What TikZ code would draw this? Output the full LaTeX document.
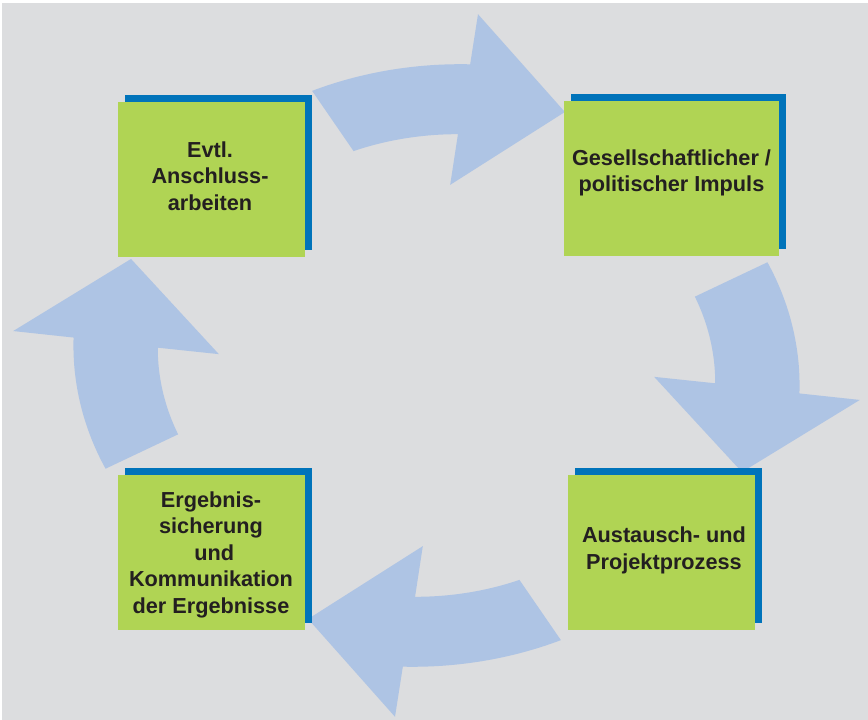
\documentclass[tikz,border=0pt]{standalone}
\usepackage{fontspec}
\setmainfont{Liberation Sans}
\usetikzlibrary{shadows}

\definecolor{bggrey}{RGB}{220,221,223}
\definecolor{arrowblue}{RGB}{174,196,228}
\definecolor{boxgreen}{RGB}{176,212,84}
\definecolor{boxblue}{RGB}{0,115,186}
\definecolor{textdark}{RGB}{35,31,32}

\tikzset{
  stepbox/.style={fill=boxgreen, inner sep=0pt, minimum width=187pt, minimum height=155pt,
    general shadow={fill=boxblue, shadow xshift=7pt, shadow yshift=7pt}},
  steplabel/.style={align=center, text=textdark, inner sep=0pt,
    font=\fontsize{21.7}{26.5}\selectfont\bfseries},
}

\begin{document}
\begin{tikzpicture}[x=1pt, y=1pt]
  \useasboundingbox (0,0) rectangle (868,720);
  \fill[white] (0,0) rectangle (868,720);
  \fill[bggrey] (2,0) rectangle (868,717);

  % four curved block arrows around the cycle (clockwise)
  \foreach \rot in {0,-90,180,90} {
    \begin{scope}[shift={(436.5,354.5)}, xscale=1.205, rotate=\rot]
      \fill[arrowblue]
        plot[domain=110.6:84.7, samples=30] (\x:{293.4+(110.6-\x)*0.3514})
        -- (84.4:353) -- (67.2:275) -- (86.4:181)
        -- plot[domain=85.6:107.8, samples=30] (\x:{232-(\x-85.6)*0.3063})
        -- cycle;
    \end{scope}
  }

  % the four steps
  \node[stepbox] (evtl) at (211.5,540.5) {};
  \node[stepbox, minimum width=215pt] (impuls) at (671.5,541) {};
  \node[stepbox] (prozess) at (661.5,167.5) {};
  \node[stepbox] (ergebnis) at (211.5,167.5) {};

  \node[steplabel] (evtl-t) at (210,544) {Evtl.\\Anschluss-\\arbeiten};
  \node[steplabel] (impuls-t) at (671.5,547.3) {Gesellschaftlicher /\\politischer Impuls};
  \node[steplabel] (prozess-t) at (664,169.8) {Austausch- und\\Projektprozess};
  \node[steplabel] (ergebnis-t) at (211,165.3) {Ergebnis-\\sicherung\\\hspace*{0.3em}und\\Kommunikation\\der Ergebnisse};
\end{tikzpicture}
\end{document}
